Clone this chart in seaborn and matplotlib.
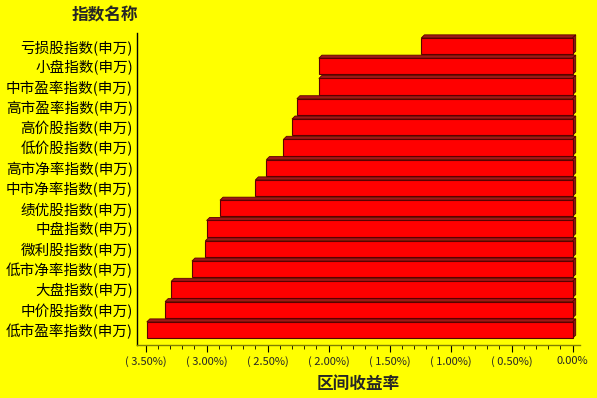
import matplotlib
matplotlib.use("Agg")
import matplotlib.pyplot as plt
import seaborn as sns
import pandas as pd
from matplotlib.patches import Polygon
from matplotlib.ticker import MultipleLocator, FuncFormatter

categories = ["亏损股指数(申万)", "小盘指数(申万)", "中市盈率指数(申万)", "高市盈率指数(申万)",
              "高价股指数(申万)", "低价股指数(申万)", "高市净率指数(申万)", "中市净率指数(申万)",
              "绩优股指数(申万)", "中盘指数(申万)", "微利股指数(申万)", "低市净率指数(申万)",
              "大盘指数(申万)", "中价股指数(申万)", "低市盈率指数(申万)"]
returns = [-1.24, -2.08, -2.08, -2.26, -2.30, -2.37, -2.51, -2.60,
           -2.89, -3.00, -3.01, -3.12, -3.29, -3.34, -3.49]
title_text = "指数名称"
xlabel_text = "区间收益率"

df = pd.DataFrame({"name": categories, "ret": returns})

sns.set_theme(style="white")
plt.rcParams['font.family'] = ['Noto Sans CJK SC', 'DejaVu Sans']
plt.rcParams['axes.unicode_minus'] = False

BG = "#FFFF00"
fig = plt.figure(figsize=(5.97, 3.98), dpi=100, facecolor=BG)
ax = fig.add_axes([0.2295, 0.133, 0.742, 0.784])
ax.set_facecolor(BG)

sns.barplot(data=df, y="name", x="ret", orient="h", color="#FF0000",
            saturation=1, width=0.8, edgecolor="#5A0000", linewidth=0.8, ax=ax, zorder=3)

ax.set_xlim(-3.57, 0.06)
ax.set_ylim(len(categories) - 1 + 0.74, -0.64)

# 3D faces derived from each bar's geometry
dx = 0.025
dy = 0.15
for p in ax.patches:
    x0 = p.get_x()
    w = p.get_width()
    y0 = p.get_y()
    h = p.get_height()
    xl = min(x0, x0 + w)
    xr = max(x0, x0 + w)
    ytop = y0  # inverted axis: smaller y is top
    top = Polygon([(xl, ytop), (xl + dx, ytop - dy), (xr + dx, ytop - dy), (xr, ytop)],
                  closed=True, facecolor="#A01818", edgecolor="#5A0000", linewidth=0.6, zorder=2.9)
    ax.add_patch(top)
    side = Polygon([(xr, ytop), (xr + dx, ytop - dy), (xr + dx, ytop + h - dy), (xr, ytop + h)],
                   closed=True, facecolor="#8B1A1A", edgecolor="#5A0000", linewidth=0.6, zorder=2.9)
    ax.add_patch(side)

def fmt(v, pos):
    if abs(v) < 1e-9:
        return "0.00%"
    if v < 0:
        return "( %.2f%%)" % abs(v)
    return "%.2f%%" % v

ax.xaxis.set_major_locator(MultipleLocator(0.5))
ax.xaxis.set_minor_locator(MultipleLocator(0.1))
ax.xaxis.set_major_formatter(FuncFormatter(fmt))
ax.tick_params(axis="x", which="major", direction="out", length=5, width=0.8,
               color="black", labelsize=8, pad=3, bottom=True)
ax.tick_params(axis="x", which="minor", direction="out", length=3, width=0.6,
               color="black", bottom=True)
ax.tick_params(axis="y", which="both", length=0, labelsize=10.5, pad=3, left=False)
for lab in ax.get_yticklabels():
    lab.set_color("black")

for s in ["top", "right"]:
    ax.spines[s].set_visible(False)
ax.spines["left"].set_color("black")
ax.spines["left"].set_linewidth(1.0)
ax.spines["bottom"].set_color("#808000")
ax.spines["bottom"].set_linewidth(1.0)

ax.set_ylabel("")
ax.set_xlabel(xlabel_text, fontsize=12, fontweight="bold", labelpad=6)
fig.text(0.176, 0.962, title_text, fontsize=12, fontweight="bold", ha="center", va="center")

fig.savefig("out.png", dpi=100, facecolor=BG)
